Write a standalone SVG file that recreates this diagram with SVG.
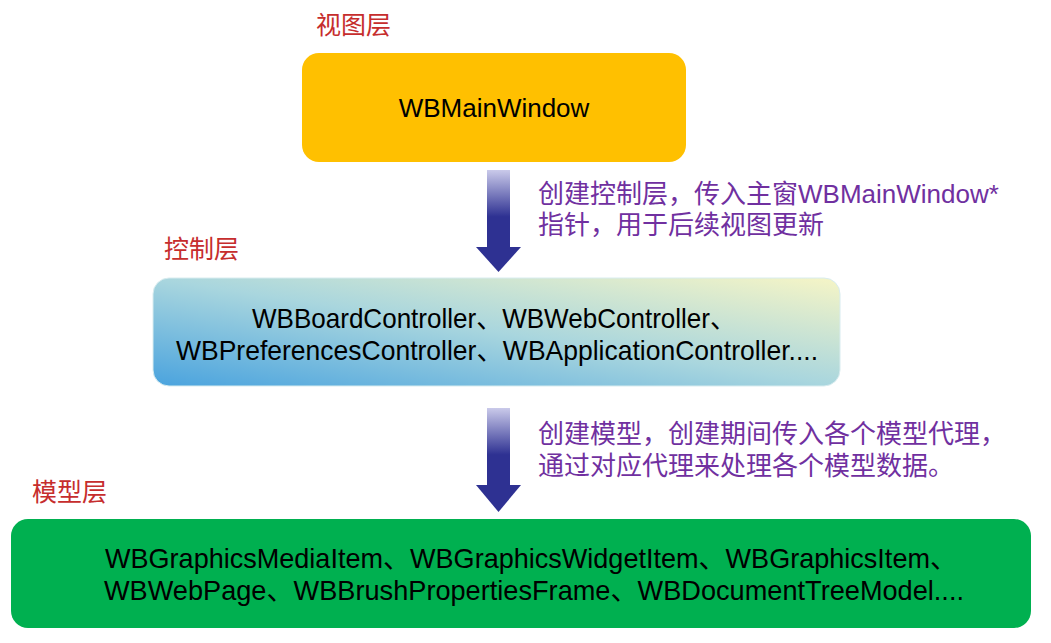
<svg xmlns="http://www.w3.org/2000/svg" width="1051" height="643" viewBox="0 0 1051 643">
<style>
.lbl{font-family:"Noto Sans CJK SC","Noto Sans",sans-serif;font-size:25px;fill:#C62D2D;}
.note{font-family:"Liberation Sans","Noto Sans CJK SC",sans-serif;font-size:26px;fill:#7030A0;}
.nt{font-family:"Liberation Sans","Noto Sans CJK SC",sans-serif;font-size:26px;fill:#000;text-anchor:middle;}
.big{font-size:28px;}
</style>
<defs>
<linearGradient id="shaft" x1="0" y1="0" x2="0" y2="1">
<stop offset="0" stop-color="#CACAEA"/>
<stop offset="0.6" stop-color="#2E3192"/>
<stop offset="1" stop-color="#2E3192"/>
</linearGradient>
<linearGradient id="ctrl" x1="0" y1="1" x2="1" y2="0">
<stop offset="0" stop-color="#4AA3DE"/>
<stop offset="0.5" stop-color="#A9D6DE"/>
<stop offset="1" stop-color="#F6F5C6"/>
</linearGradient>
</defs>
<g id="labels">
<text class="lbl" x="316" y="34">视图层</text>
<text class="lbl" x="164" y="258">控制层</text>
<text class="lbl" x="32" y="501">模型层</text>
</g>
<g id="view">
<rect x="302" y="53" width="384" height="109" rx="17" fill="#FFC000"/>
<text class="nt" x="494" y="117">WBMainWindow</text>
</g>
<g id="controller">
<rect x="153" y="278" width="687" height="108" rx="16" fill="url(#ctrl)" stroke="#D8ECEF" stroke-width="1"/>
<text class="nt big" x="494" y="328" textLength="484" lengthAdjust="spacingAndGlyphs">WBBoardController、WBWebController、</text>
<text class="nt big" x="497" y="360" textLength="642" lengthAdjust="spacingAndGlyphs">WBPreferencesController、WBApplicationController....</text>
</g>
<g id="model">
<rect x="11" y="519" width="1020" height="109" rx="17" fill="#00B050"/>
<text class="nt big" x="531" y="568" textLength="852" lengthAdjust="spacingAndGlyphs">WBGraphicsMediaItem、WBGraphicsWidgetItem、WBGraphicsItem、</text>
<text class="nt big" x="534" y="600" textLength="860" lengthAdjust="spacingAndGlyphs">WBWebPage、WBBrushPropertiesFrame、WBDocumentTreeModel....</text>
</g>
<g id="connectors">
<rect x="487" y="170" width="23" height="78" fill="url(#shaft)"/>
<polygon points="476,247 521,247 498.5,272" fill="#2E3192"/>
<rect x="487" y="408" width="23" height="78" fill="url(#shaft)"/>
<polygon points="476,485 521,485 498.5,512" fill="#2E3192"/>
</g>
<g id="notes">
<text class="note" x="538" y="203">创建控制层，传入主窗WBMainWindow*</text>
<text class="note" x="538" y="234">指针，用于后续视图更新</text>
<text class="note" x="538" y="443">创建模型，创建期间传入各个模型代理，</text>
<text class="note" x="538" y="475">通过对应代理来处理各个模型数据。</text>
</g>
</svg>
